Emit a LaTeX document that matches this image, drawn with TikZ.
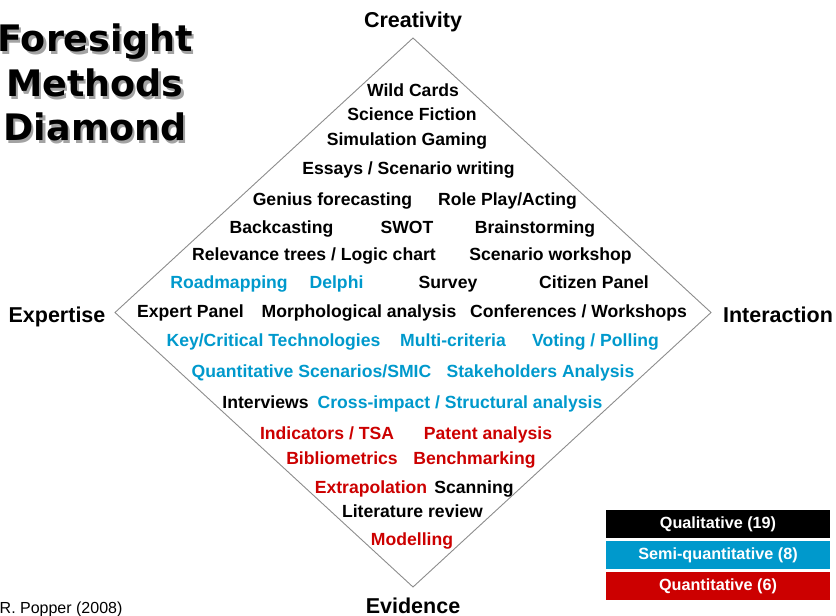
\documentclass[tikz,border=0pt]{standalone}
\usepackage{fontspec}
\setmainfont{Liberation Sans}
\newfontfamily\titlefont{DejaVu Sans}
\definecolor{semi}{HTML}{0099CC}
\definecolor{quant}{HTML}{CC0000}
\definecolor{edge}{HTML}{8C8C8C}
\tikzset{
  method/.style={anchor=base, inner sep=0pt, font=\fontsize{17.6bp}{20bp}\selectfont\bfseries},
  qual/.style={method, text=black},
  semiq/.style={method, text=semi},
  quan/.style={method, text=quant},
  axis/.style={anchor=base, inner sep=0pt, font=\fontsize{21.5bp}{24bp}\selectfont\bfseries},
  legend/.style={minimum width=224bp, minimum height=28bp, inner sep=0pt, text=white,
    font=\fontsize{16.2bp}{18bp}\selectfont\bfseries},
  heading/.style={anchor=base, inner sep=0pt,
    font=\titlefont\fontsize{36.5bp}{44bp}\selectfont\bfseries},
  headshadow/.style={heading, text=black!45, opacity=0.8},
}
\begin{document}
\begin{tikzpicture}[x=1bp, y=-1bp]
\useasboundingbox (0,0) rectangle (836,616);

% diamond frame and its four corners
\coordinate (top) at (413,38);
\coordinate (right) at (711,312.5);
\coordinate (bottom) at (413,587);
\coordinate (left) at (115,312.5);
\draw[edge, line width=0.9bp] (top) -- (right) -- (bottom) -- (left) -- cycle;

% axis labels
\node[axis] (creativity) at (413,28) {Creativity};
\node[axis] (expertise) at (57,322) {Expertise};
\node[axis] (interaction) at (778,322) {Interaction};
\node[axis] (evidence) at (413,613) {Evidence};

% title with a soft drop shadow
\node[headshadow] (s1) at (97.2,54.2) {Foresight};
\node[headshadow] (s2) at (97.2,99.2) {Methods};
\node[headshadow] (s3) at (97.2,143.2) {Diamond};
\node[heading] (t1) at (95,52) {Foresight};
\node[heading] (t2) at (95,97) {Methods};
\node[heading] (t3) at (95,141) {Diamond};

% methods, top (creativity) to bottom (evidence)
\node[qual] (m1) at (413,97) {Wild Cards};
\node[qual] (m2) at (412,121) {Science Fiction};
\node[qual] (m3) at (407,146) {Simulation Gaming};
\node[qual] (m4) at (408.5,175) {Essays / Scenario writing};
\node[qual] (m5) at (332.5,206) {Genius forecasting};
\node[qual] (m6) at (507.5,206) {Role Play/Acting};
\node[qual] (m7) at (281.5,234) {Backcasting};
\node[qual] (m8) at (407,234) {SWOT};
\node[qual] (m9) at (535,234) {Brainstorming};
\node[qual] (m10) at (314,260) {Relevance trees / Logic chart};
\node[qual] (m11) at (550.5,260) {Scenario workshop};
\node[semiq] (m12) at (229,288) {Roadmapping};
\node[semiq] (m13) at (336.5,288) {Delphi};
\node[qual] (m14) at (448,288) {Survey};
\node[qual] (m15) at (594,288) {Citizen Panel};
\node[qual] (m16) at (190.5,317) {Expert Panel};
\node[qual] (m17) at (359,317) {Morphological analysis};
\node[qual] (m18) at (578.5,317) {Conferences / Workshops};
\node[semiq] (m19) at (273.5,346) {Key/Critical Technologies};
\node[semiq] (m20) at (453,346) {Multi-criteria};
\node[semiq] (m21) at (595.5,346) {Voting / Polling};
\node[semiq] (m22) at (311.5,377) {Quantitative Scenarios/SMIC};
\node[semiq] (m23) at (540.5,377) {Stakeholders Analysis};
\node[qual] (m24) at (265.5,408) {Interviews};
\node[semiq] (m25) at (460,408) {Cross-impact / Structural analysis};
\node[quan] (m26) at (327,439) {Indicators / TSA};
\node[quan] (m27) at (488,439) {Patent analysis};
\node[quan] (m28) at (342,464) {Bibliometrics};
\node[quan] (m29) at (474.5,464) {Benchmarking};
\node[quan] (m30) at (371,493) {Extrapolation};
\node[qual] (m31) at (474,493) {Scanning};
\node[qual] (m32) at (412.5,517) {Literature review};
\node[quan] (m33) at (412,545) {Modelling};

% legend
\node[legend, fill=black] (lg1) at (718,524) {Qualitative (19)};
\node[legend, fill=semi] (lg2) at (718,555) {Semi-quantitative (8)};
\node[legend, fill=quant] (lg3) at (718,586) {Quantitative (6)};

% source
\node[anchor=base west, inner sep=0pt, font=\fontsize{16bp}{18bp}\selectfont] (src) at (-0.5,613) {R. Popper (2008)};
\end{tikzpicture}
\end{document}
